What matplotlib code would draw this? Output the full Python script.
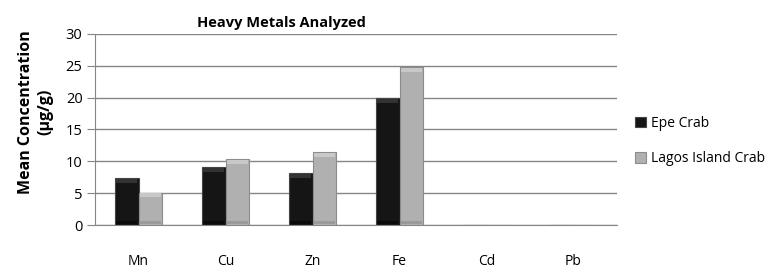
import numpy as np
import matplotlib
matplotlib.use('Agg')
import matplotlib.pyplot as plt

# data
metals = ['Mn', 'Cu', 'Zn', 'Fe', 'Cd', 'Pb']
epe_crab = [7.4, 9.05, 8.1, 19.9, 0, 0]
lagos_crab = [5.1, 10.4, 11.4, 24.85, 0, 0]
series_names = ['Epe Crab', 'Lagos Island Crab']
yticks = [0, 5, 10, 15, 20, 25, 30]

plt.rcParams['font.family'] = ['Open Sans', 'DejaVu Sans']

fig = plt.figure(figsize=(7.82, 2.73), dpi=100)
ax = fig.add_axes([0.1215, 0.1758, 0.6675, 0.6997])

x = np.arange(len(metals))
w = 0.275
b1 = ax.bar(x - w / 2, epe_crab, w, color='#151515', edgecolor='#444444',
            linewidth=0.8, label=series_names[0], zorder=3)
b2 = ax.bar(x + w / 2, lagos_crab, w, color='#b0b0b0', edgecolor='#8c8c8c',
            linewidth=0.8, label=series_names[1], zorder=3)

# subtle bevel: lighter strip at the top, darker strip at the bottom
for bars, hi, lo in ((b1, '#333333', '#0a0a0a'), (b2, '#c8c8c8', '#9a9a9a')):
    for r in bars:
        h = r.get_height()
        if h <= 0:
            continue
        ax.bar(r.get_x() + r.get_width() / 2, 0.6, r.get_width() * 0.85,
               bottom=h - 0.75, color=hi, linewidth=0, zorder=4)
        ax.bar(r.get_x() + r.get_width() / 2, 0.5, r.get_width() * 0.85,
               bottom=0.15, color=lo, linewidth=0, zorder=4)

ax.set_xlim(-0.5, len(metals) - 0.5)
ax.set_ylim(0, 30)
ax.set_yticks(yticks)
ax.set_xticks(x)
ax.set_xticklabels(metals, fontsize=10)
ax.tick_params(axis='y', labelsize=10.5, length=6, color='#868686', pad=3)
ax.tick_params(axis='x', length=0, pad=21)
ax.yaxis.grid(True, color='#868686', linewidth=1, zorder=0)
ax.set_axisbelow(True)

for s in ('top', 'right'):
    ax.spines[s].set_visible(False)
ax.spines['left'].set_color('#868686')
ax.spines['bottom'].set_color('#868686')

ax.set_ylabel('Mean Concentration\n(\u00b5g/g)', fontsize=11.5, fontweight='bold',
              linespacing=1.3)
ax.yaxis.set_label_coords(-0.08, 0.59)
fig.text(0.36, 0.915, 'Heavy Metals Analyzed', fontsize=10.5, fontweight='bold',
         ha='center', va='center')

ax.legend(loc='center left', bbox_to_anchor=(1.01, 0.44), frameon=False,
          fontsize=10, handlelength=0.8, handleheight=0.8, labelspacing=1.45,
          handletextpad=0.4)

fig.savefig('out.png', dpi=100)
